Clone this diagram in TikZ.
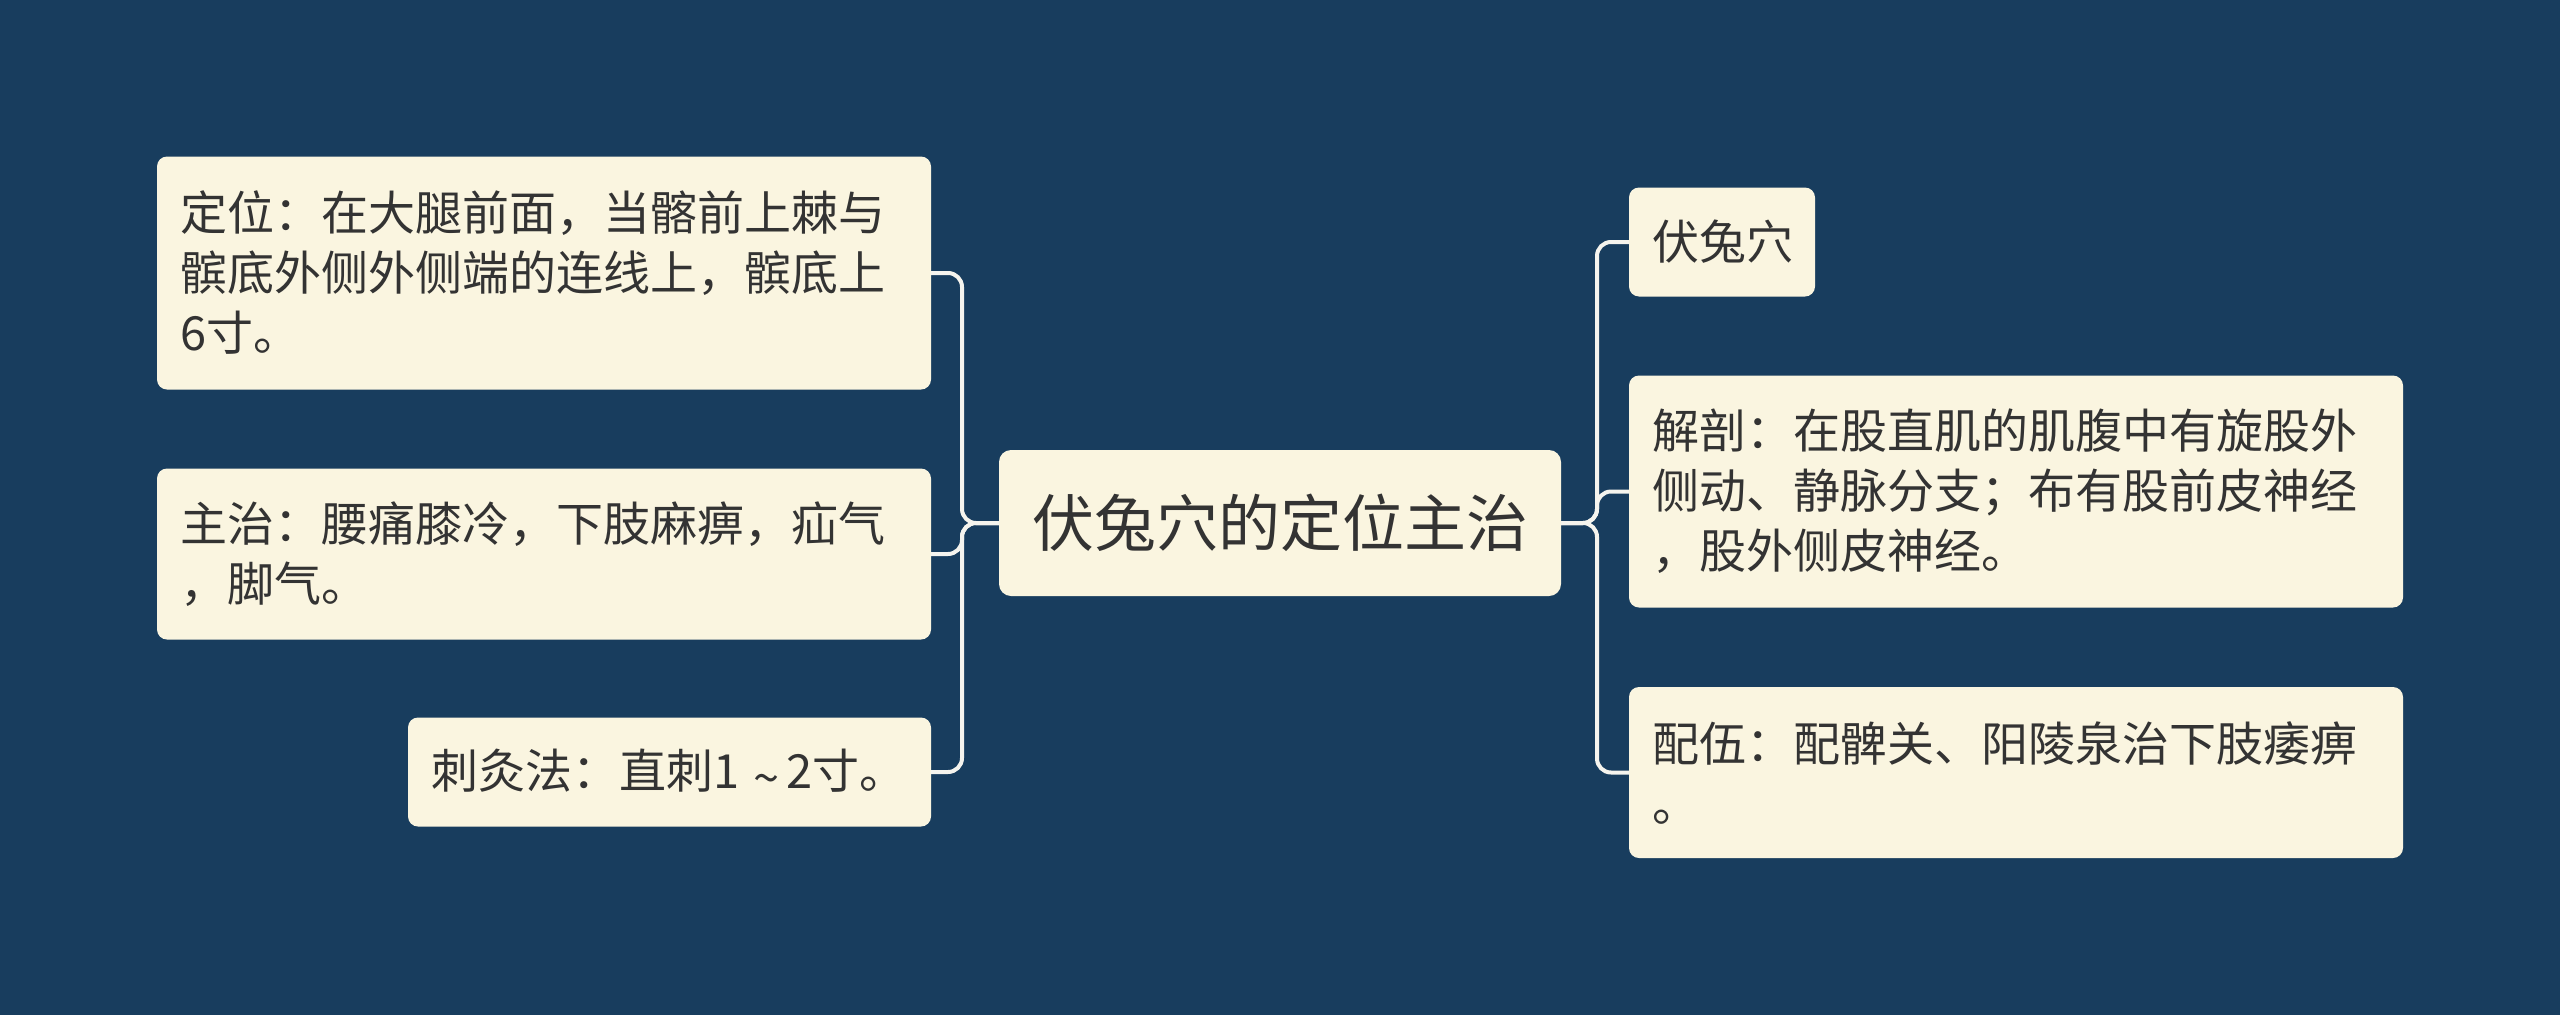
\documentclass[tikz,border=0pt]{standalone}
\usepackage{fontspec}
\setmainfont{Noto Sans CJK SC}
\definecolor{bgcol}{RGB}{24,61,94}
\definecolor{boxfill}{RGB}{250,245,224}
\definecolor{txtcol}{RGB}{51,51,51}
\definecolor{linecol}{RGB}{245,244,238}
\begin{document}
\begin{tikzpicture}[x=1pt,y=-1pt,
  box/.style={fill=boxfill, rounded corners=10pt, text=txtcol, inner xsep=23pt, inner ysep=0pt, align=left, font=\fontsize{47pt}{60pt}\selectfont},
  rootbox/.style={fill=boxfill, rounded corners=12pt, text=txtcol, inner sep=0pt, align=center, font=\fontsize{62pt}{74pt}\selectfont},
  conn/.style={draw=linecol, line width=4pt, rounded corners=14pt}]
\fill[bgcol] (0,0) rectangle (2560,1015);
\useasboundingbox (0,0) rectangle (2560,1015);

\node[rootbox, minimum width=562pt, minimum height=146pt] (root) at (1280,523) {伏兔穴的定位主治};

\node[box, text width=728pt, minimum height=233pt] (b1) at (544,273) {定位：在大腿前面，当髂前上棘与\\髌底外侧外侧端的连线上，髌底上\\6寸。};
\node[box, text width=728pt, minimum height=171pt] (b2) at (544,554) {主治：腰痛膝冷，下肢麻痹，疝气\\，脚气。};
\node[box, text width=477pt, minimum height=109pt] (b3) at (669.5,772) {刺灸法：直刺1\hspace{0.3em}\raisebox{-0.14em}{\textasciitilde}\hspace{0.15em}2寸。};

\node[box, text width=140pt, minimum height=109pt] (r1) at (1722,242) {伏兔穴};
\node[box, text width=728pt, minimum height=232pt] (r2) at (2016,491.5) {解剖：在股直肌的肌腹中有旋股外\\侧动、静脉分支；布有股前皮神经\\，股外侧皮神经。};
\node[box, text width=728pt, minimum height=171pt] (r3) at (2016,772.5) {配伍：配髀关、阳陵泉治下肢痿痹\\。};

\coordinate (lt) at (962,523);
\coordinate (rt) at (1597,523);
\draw[conn] (root.west) -- (lt) |- (b1.east);
\draw[conn] (root.west) -- (lt) |- (b2.east);
\draw[conn] (root.west) -- (lt) |- (b3.east);
\draw[conn] (root.east) -- (rt) |- (r1.west);
\draw[conn] (root.east) -- (rt) |- (r2.west);
\draw[conn] (root.east) -- (rt) |- (r3.west);
\end{tikzpicture}
\end{document}
